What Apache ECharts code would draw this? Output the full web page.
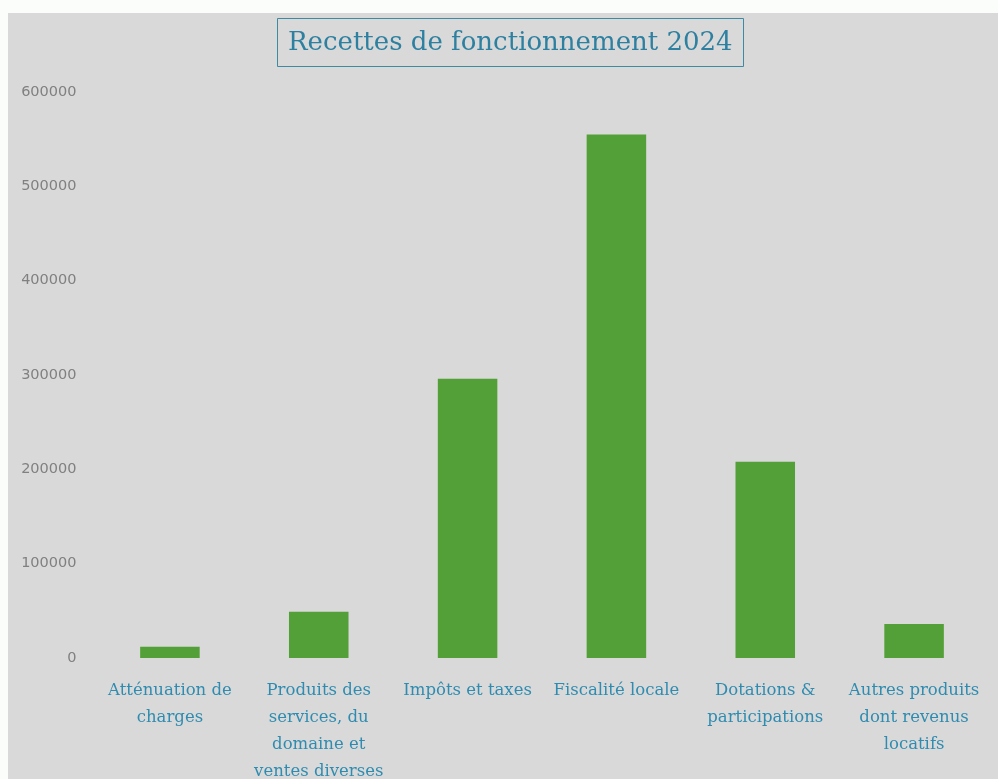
<!DOCTYPE html>
<html>
<head>
<meta charset="utf-8">
<script src="https://cdn.jsdelivr.net/npm/echarts@6/dist/echarts.min.js"></script>
<style>
  html, body { margin: 0; padding: 0; background: #fbfdfb; }
  #main { position: absolute; left: 8px; top: 13px; width: 990px; height: 766px; background: #d9d9d9; }
</style>
</head>
<body>
<div id="main"></div>
<script>
// données 2024
var categories = [
  'Atténuation de\ncharges',
  'Produits des\nservices, du\ndomaine et\nventes diverses',
  'Impôts et taxes',
  'Fiscalité locale',
  'Dotations &\nparticipations',
  'Autres produits\ndont revenus\nlocatifs'
];
var recettes = [12000, 49000, 296000, 555000, 208000, 36000];
var yTicks = [0, 100000, 200000, 300000, 400000, 500000, 600000];

var chart = echarts.init(document.getElementById('main'), null, { renderer: 'canvas' });

var option = {
  backgroundColor: '#d9d9d9',
  animation: false,
  title: {
    text: 'Recettes de fonctionnement 2024',
    left: 269,
    top: 5,
    padding: [12, 11, 11, 11],
    borderColor: '#3f8aa3',
    borderWidth: 1,
    textStyle: {
      fontFamily: 'DejaVu Serif',
      fontWeight: 'normal',
      fontSize: 26,
      color: '#2e80a0'
    }
  },
  grid: { left: 87.5, right: 9.5, top: 79, bottom: 121, outerBoundsMode: 'none', containLabel: false },
  xAxis: {
    type: 'category',
    data: categories,
    axisLine: { show: false },
    axisTick: { show: false },
    axisLabel: {
      interval: 0,
      margin: 19,
      fontFamily: 'DejaVu Serif',
      fontSize: 16.5,
      lineHeight: 27,
      color: '#2f8cb0'
    }
  },
  yAxis: {
    type: 'value',
    min: yTicks[0],
    max: yTicks[yTicks.length - 1],
    interval: 100000,
    splitLine: { show: false },
    axisLine: { show: false },
    axisTick: { show: false },
    axisLabel: {
      margin: 19,
      fontFamily: 'DejaVu Sans',
      fontSize: 14.5,
      color: '#808080',
      formatter: function (v) { return String(v); }
    }
  },
  series: [{
    type: 'bar',
    data: recettes,
    barWidth: '40%',
    itemStyle: { color: '#54a038' }
  }]
};

chart.setOption(option);
</script>
</body>
</html>
